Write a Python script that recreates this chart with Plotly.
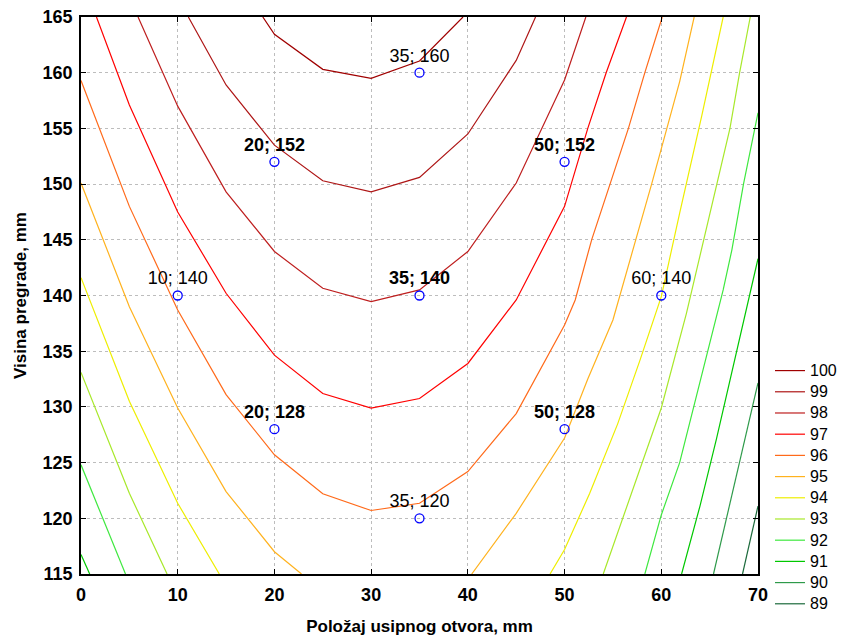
import plotly.graph_objects as go

# ---- contour level data ----
levels = [100, 99, 98, 97, 96, 95, 94, 93, 92, 91, 90, 89]
colors = ["#A00000", "#AE1616", "#BE1E1E", "#FF0000", "#FF6A1A", "#FFB21E",
          "#EEEE00", "#A8E82A", "#3EE83E", "#00C800", "#2E9A4A", "#1C6A3C"]

x100 = [18.8, 20, 25, 30, 35, 39.5]
y100 = [165, 163.45, 160.3, 159.5, 161.05, 165]

x99 = [11.1, 15, 20, 25, 30, 35, 40, 45, 47]
y99 = [165, 158.9, 153.5, 150.3, 149.3, 150.6, 154.5, 161.1, 165]

x98 = [5.9, 10, 15, 20, 25, 30, 35, 40, 45, 50, 52.2]
y98 = [165, 157.0, 149.3, 143.95, 140.65, 139.45, 140.5, 143.95, 150.1, 159.35, 165]

x97 = [1.6, 5, 10, 15, 20, 25, 30, 35, 40, 45, 50, 52.4, 54.3, 56.4]
y97 = [165, 157.1, 147.5, 140.2, 134.65, 131.2, 129.9, 130.75, 133.9, 139.6, 148.0, 155, 160, 165]

x96 = [0, 5, 10, 15, 20, 25, 30, 35, 40, 45, 50, 51.1, 52.8, 54.7, 56.6, 58.3, 60.1]
y96 = [159.3, 148.0, 138.7, 131.1, 125.7, 122.2, 120.7, 121.35, 124.2, 129.4, 137.35, 139.6, 145, 150, 155, 160, 165]

x95 = [0, 5, 10, 15, 20, 22.8, None, 40.4, 45, 50, 52.4, 55.0, 57.1, 59.0, 61.9, 63.4]
y95 = [150.1, 139.0, 129.9, 122.4, 117.0, 115, None, 115, 120.45, 127.2, 132.5, 137.8, 144.1, 150, 159.2, 165]

x94 = [0, 5, 10, 14.3, None, 48.5, 50, 52.6, 55.5, 57.8, 60, 61.9, 64.2, 66.4]
y94 = [141.6, 130.5, 121.35, 115, None, 115, 117.2, 122.25, 128.5, 134.2, 139.9, 147.4, 156.2, 165]

x93 = [0, 5, 8.9, None, 54.0, 56.1, 60, 62.6, 64.4, 65.7, 67.1, 68.1, 69.2]
y93 = [133.1, 122.25, 115, None, 115, 120.2, 129.9, 138.4, 145, 150, 155, 160, 165]

x92 = [0, 4.6, None, 58.3, 60, 61.9, 64.2, 66.4, 67.3, 68.5, 70]
y92 = [124.8, 115, None, 115, 120.3, 125, 133, 140.5, 144.1, 150, 156.4]

x91 = [0, 0.9, None, 62.1, 64.0, 65.7, 69.3, 70]
y91 = [116.75, 115, None, 115, 121.1, 127.1, 140.5, 143.3]

x90 = [65.4, 68.7, 70]
y90 = [115, 127.1, 132.15]

x89 = [68.4, 70]
y89 = [115, 121.1]

contour_x = [x100, x99, x98, x97, x96, x95, x94, x93, x92, x91, x90, x89]
contour_y = [y100, y99, y98, y97, y96, y95, y94, y93, y92, y91, y90, y89]

# ---- experimental points ----
pt_x = [35, 20, 50, 10, 35, 60, 20, 50, 35]
pt_y = [160, 152, 152, 140, 140, 140, 128, 128, 120]
pt_bold = [False, True, True, False, True, False, True, True, False]

x_ticks = [0, 10, 20, 30, 40, 50, 60, 70]
y_ticks = [115, 120, 125, 130, 135, 140, 145, 150, 155, 160, 165]

FONT = "Liberation Sans, Arial, sans-serif"

fig = go.Figure()
for lev, col, xs, ys in zip(levels, colors, contour_x, contour_y):
    fig.add_trace(go.Scatter(
        x=xs, y=ys, mode="lines", line=dict(color=col, width=1.2),
        name='<span style="font-family:Liberation Sans;font-size:16px">%d</span>' % lev,
        hoverinfo="skip", connectgaps=False))

labels = []
for x, y, b in zip(pt_x, pt_y, pt_bold):
    t = "%d; %d" % (x, y)
    labels.append("<b>%s</b>" % t if b else t)

fig.add_trace(go.Scatter(
    x=pt_x, y=pt_y, mode="markers+text", text=labels,
    textposition="top center",
    textfont=dict(family=FONT, size=18, color="black"),
    marker=dict(symbol="circle-open", size=9, color="#0000FF",
                line=dict(width=1.3, color="#0000FF")),
    showlegend=False, hoverinfo="skip"))

axis_common = dict(
    showgrid=True, gridcolor="#BDBDBD", griddash="dot", gridwidth=1,
    zeroline=False, showline=True, linecolor="black", linewidth=1.5,
    mirror="ticks", ticks="inside", ticklen=5, tickcolor="black", tickwidth=1,
    tickfont=dict(family=FONT, size=18, color="black", weight="bold"),
    automargin=False, ticklabeloverflow="allow",
)

# page has an 8px body margin: figure offset by (8, 8) inside the 846x638 window
fig.update_layout(
    width=846, height=630,
    margin=dict(l=73, r=96, t=9, b=64, autoexpand=False),
    paper_bgcolor="white", plot_bgcolor="white",
    xaxis=dict(range=[0, 70], tickvals=x_ticks, ticklabelstandoff=4,
               title=dict(text="<b>Položaj usipnog otvora, mm</b>",
                          font=dict(family=FONT, size=17, color="black"),
                          standoff=16),
               **axis_common),
    yaxis=dict(range=[115, 165], tickvals=y_ticks, ticklabelstandoff=3,
               title=dict(text="<b>Visina pregrade, mm</b>",
                          font=dict(family=FONT, size=17, color="black"),
                          standoff=12),
               **axis_common),
    legend=dict(x=1.0177, xanchor="left", y=0.3932, yanchor="top",
                font=dict(family="DejaVu Sans", size=14, color="black"),
                bgcolor="rgba(0,0,0,0)", borderwidth=0,
                tracegroupgap=0, itemwidth=30),
    showlegend=True,
)

fig.write_html("out.html")
